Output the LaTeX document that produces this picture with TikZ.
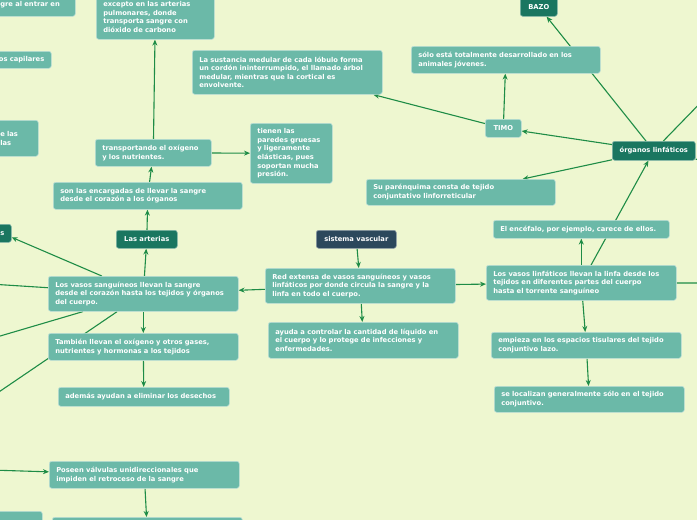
\documentclass[tikz,border=0pt]{standalone}
\usepackage{fontspec}
\newfontfamily\mapfont{DejaVu Sans}
\usetikzlibrary{arrows.meta,backgrounds}

\definecolor{paper}{RGB}{238,247,208}
\definecolor{leafteal}{RGB}{107,185,168}
\definecolor{topicgreen}{RGB}{26,118,96}
\definecolor{rootnavy}{RGB}{44,72,92}
\definecolor{linkgreen}{RGB}{30,140,70}

\begin{document}
\begin{tikzpicture}[x=1pt, y=-1pt,
    every node/.style={font=\mapfont\bfseries\fontsize{6.75}{8.6}\selectfont, text=white, rounded corners=2.5pt, inner xsep=7pt, inner ysep=0pt, anchor=north west},
    leaf/.style={rectangle, draw=white!55!leafteal, line width=0.6pt, fill=leafteal, align=left},
    topic/.style={rectangle, draw=white!45!topicgreen, line width=0.6pt, fill=topicgreen, align=center},
    root/.style={rectangle, draw=white!45!rootnavy, line width=0.6pt, fill=rootnavy, align=center},
    link/.style={->, >={Stealth[length=6pt,width=5pt]}, draw=linkgreen, line width=1.1pt}]
    \useasboundingbox (0,0) rectangle (697,520);

    % sistema vascular
    \node (vascular) [root, minimum width=80pt, minimum height=18pt] at (316,230) {sistema vascular};
    \node (red) [leaf, text width=176pt, minimum height=35pt] at (265,268) {Red extensa de vasos sanguíneos y vasos\\linfáticos por donde circula la sangre y la\\linfa en todo el cuerpo.};
    \node (ayuda) [leaf, text width=176pt, minimum height=36pt] at (268,322) {ayuda a controlar la cantidad de líquido en\\el cuerpo y lo protege de infecciones y\\enfermedades.};

    % vasos sanguineos
    \node (sanguineos) [leaf, text width=176pt, minimum height=35pt] at (48,276) {Los vasos sanguíneos llevan la sangre\\desde el corazón hasta los tejidos y órganos\\del cuerpo.};
    \node (tambien) [leaf, text width=176pt, minimum height=27pt] at (48,333) {También llevan el oxígeno y otros gases,\\nutrientes y hormonas a los tejidos};
    \node (desechos) [leaf, text width=157pt, minimum height=19pt] at (58,387) {además ayudan a eliminar los desechos};
    \node (arterias) [topic, minimum width=61pt, minimum height=18pt] at (116,230) {Las arterias};
    \node (encargadas) [leaf, text width=175pt, minimum height=27pt] at (53,182) {son las encargadas de llevar la sangre\\desde el corazón a los órganos};
    \node (transportando) [leaf, text width=102pt, minimum height=27pt] at (95,139) {transportando el oxígeno\\y los nutrientes.};
    \node (paredes) [leaf, text width=68pt, minimum height=60pt] at (250,123) {tienen las\\paredes gruesas\\y ligeramente\\elásticas, pues\\soportan mucha\\presión.};
    \node (excepto) [leaf, text width=104pt, minimum height=45pt] at (96,-6) {excepto en las arterias\\pulmonares, donde\\transporta sangre con\\dióxido de carbono};
    \node (poseen) [leaf, text width=176pt, minimum height=27pt] at (49,461) {Poseen válvulas unidireccionales que\\impiden el retroceso de la sangre};
    \node (bajo) [leaf, text width=176pt, minimum height=28pt] at (52,517) {};

    % nodos cortados por el borde
    \node (entrar) [leaf, text width=68pt, minimum height=24pt] at (-7,-8) {gre al entrar en};
    \node (capilares) [leaf, text width=60pt, align=right, minimum height=17pt] at (-23,51) {os capilares};
    \node (delas) [leaf, text width=31pt, minimum height=36pt] at (-7,120) {e las\\las};
    \node (venas) [topic, minimum width=17pt, minimum height=18pt] at (-7,224) {s};
    \node (esquina) [leaf, text width=35pt, minimum height=28pt] at (-7,511) {};

    % vasos linfaticos
    \node (linfaticos) [leaf, text width=176pt, minimum height=35pt] at (486,265) {Los vasos linfáticos llevan la linfa desde los\\tejidos en diferentes partes del cuerpo\\hasta el torrente sanguíneo};
    \node (encefalo) [leaf, text width=162pt, minimum height=18pt] at (493,220) {El encéfalo, por ejemplo, carece de ellos.};
    \node (empieza) [leaf, text width=176pt, minimum height=26pt] at (491,332) {empieza en los espacios tisulares del tejido\\conjuntivo lazo.};
    \node (localizan) [leaf, text width=176pt, minimum height=26pt] at (494,386) {se localizan generalmente sólo en el tejido\\conjuntivo.};

    % organos linfaticos
    \node (organos) [topic, minimum width=83pt, minimum height=19pt] at (612,141) {órganos linfáticos};
    \node (timo) [leaf, align=center, minimum width=36pt, minimum height=18pt] at (485,119) {TIMO};
    \node (bazo) [topic, minimum width=37pt, minimum height=19pt] at (520,-3) {BAZO};
    \node (jovenes) [leaf, text width=175pt, minimum height=27pt] at (411,46) {sólo está totalmente desarrollado en los\\animales jóvenes.};
    \node (medular) [leaf, text width=176pt, minimum height=44pt] at (192,50) {La sustancia medular de cada lóbulo forma\\un cordón ininterrumpido, el llamado árbol\\medular, mientras que la cortical es\\envolvente.};
    \node (parenquima) [leaf, text width=175pt, minimum height=26pt] at (366,179) {Su parénquima consta de tejido\\conjuntativo linforreticular};

    \coordinate (offL1) at (-10,284);
    \coordinate (offL2) at (-10,339);
    \coordinate (offL3) at (-10,398);
    \coordinate (offL4) at (-10,470);
    \coordinate (offR1) at (710,93);
    \coordinate (offR2) at (720,164);
    \coordinate (offR3) at (710,283);

    \begin{scope}[on background layer]
        \fill[paper] (0,0) rectangle (697,520);
        \draw[link] (vascular) -- (red);
        \draw[link] (red) -- (ayuda);
        \draw[link] (red) -- (sanguineos);
        \draw[link] (red) -- (linfaticos);
        \draw[link] (sanguineos) -- (arterias);
        \draw[link] (arterias) -- (encargadas);
        \draw[link] (encargadas) -- (transportando);
        \draw[link] (transportando) -- (excepto);
        \draw[link] (transportando) -- (paredes);
        \draw[link] (sanguineos) -- (tambien);
        \draw[link] (tambien) -- (desechos);
        \draw[link] (sanguineos) -- (venas);
        \draw[link] (sanguineos) -- (offL1);
        \draw[link] (sanguineos) -- (offL2);
        \draw[link] (sanguineos) -- (offL3);
        \draw[link] (offL4) -- (poseen);
        \draw[link] (poseen) -- (bajo);
        \draw[link] (linfaticos) -- (encefalo);
        \draw[link] (linfaticos) -- (organos);
        \draw[link] (linfaticos) -- (empieza);
        \draw[link] (empieza) -- (localizan);
        \draw[link] (linfaticos) -- (offR3);
        \draw[link] (organos) -- (timo);
        \draw[link] (organos) -- (parenquima);
        \draw[link] (organos) -- (bazo);
        \draw[link] (organos) -- (offR1);
        \draw[link] (organos) -- (offR2);
        \draw[link] (timo) -- (jovenes);
        \draw[link] (timo) -- (medular);
    \end{scope}
\end{tikzpicture}
\end{document}
